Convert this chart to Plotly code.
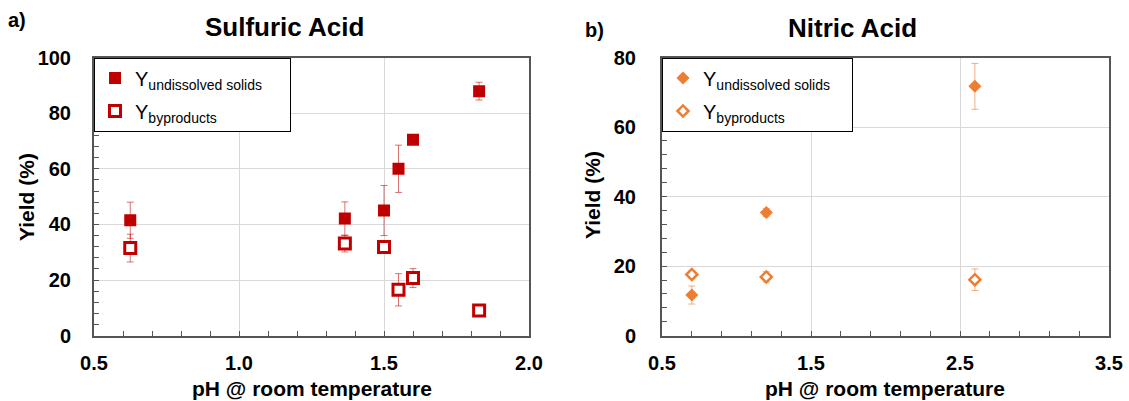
import plotly.graph_objects as go

# Sulfuric acid series
h2so4_ph = [0.625, 1.365, 1.50, 1.55, 1.60, 1.828]
h2so4_solids = [41.5, 42.1, 45.0, 60.0, 70.4, 87.9]
h2so4_solids_err = [6.5, 6.0, 9.0, 8.5, 1.0, 3.2]
h2so4_byprod = [31.5, 33.1, 31.9, 16.5, 20.7, 9.1]
h2so4_byprod_err = [5.0, 3.0, 1.0, 5.8, 3.4, 0.5]

# Nitric acid series
hno3_ph = [0.70, 1.20, 2.60]
hno3_solids = [11.7, 35.4, 71.7]
hno3_solids_err = [2.6, 1.2, 6.6]
hno3_byprod = [17.6, 16.9, 16.1]
hno3_byprod_err = [1.0, 1.5, 3.1]

RED = "#C00000"
ORANGE = "#ED7D31"
FRAME = "#555555"
FONT = "Liberation Sans"
W, H = 1129, 401

fig = go.Figure()

def err(vals, color):
    return dict(type="data", array=vals, visible=True, color=color,
                thickness=1, width=3.5)

fig.add_trace(go.Scatter(
    x=h2so4_ph, y=h2so4_solids, mode="markers",
    name="Y<sub>undissolved solids</sub>&nbsp;&nbsp;&nbsp;&nbsp;",
    legend="legend", legendgroup="a1",
    marker=dict(symbol="square", size=12, color=RED, line=dict(width=0)),
    error_y=err(h2so4_solids_err, "rgba(192,0,0,0.55)"),
    xaxis="x", yaxis="y"))
fig.add_trace(go.Scatter(
    x=h2so4_ph, y=h2so4_byprod, mode="markers",
    name="Y<sub>byproducts</sub>", legend="legend", legendgroup="a2",
    marker=dict(symbol="square", size=11, color="white",
                line=dict(width=3, color=RED)),
    error_y=err(h2so4_byprod_err, "rgba(192,0,0,0.55)"),
    xaxis="x", yaxis="y"))
fig.add_trace(go.Scatter(
    x=hno3_ph, y=hno3_solids, mode="markers",
    name="Y<sub>undissolved solids</sub>&nbsp;&nbsp;&nbsp;",
    legend="legend2", legendgroup="b1",
    marker=dict(symbol="diamond", size=10, color=ORANGE, line=dict(width=0)),
    error_y=err(hno3_solids_err, "rgba(237,125,49,0.6)"),
    xaxis="x2", yaxis="y2"))
fig.add_trace(go.Scatter(
    x=hno3_ph, y=hno3_byprod, mode="markers",
    name="Y<sub>byproducts</sub>", legend="legend2", legendgroup="b2",
    marker=dict(symbol="diamond", size=8.5, color="white",
                line=dict(width=2.5, color=ORANGE)),
    error_y=err(hno3_byprod_err, "rgba(237,125,49,0.6)"),
    xaxis="x2", yaxis="y2"))

ydom = [1 - 335.7 / H, 1 - 57.5 / H]
axis_common = dict(
    showline=True, linecolor=FRAME, linewidth=2, mirror=True,
    showgrid=True, gridcolor="#D9D9D9", gridwidth=1, zeroline=False,
    ticks="inside", ticklen=5, tickcolor=FRAME, tickwidth=1,
    tickfont=dict(family=FONT, size=20, color="black", weight="bold"),
    automargin=False,
)

def minor(step, start):
    return dict(dtick=step, tick0=start, ticks="inside", ticklen=5,
                tickcolor=FRAME, showgrid=False)

legend_style = dict(
    y=ydom[1], xanchor="left", yanchor="top",
    bgcolor="white", bordercolor="black", borderwidth=1,
    font=dict(family=FONT, size=20, color="black"),
    tracegroupgap=4, itemwidth=30, traceorder="grouped",
)

fig.update_layout(
    width=W, height=H,
    margin=dict(l=0, r=0, t=0, b=0, pad=0),
    paper_bgcolor="white", plot_bgcolor="white",
    font=dict(family=FONT, color="black"),
    xaxis=dict(domain=[94 / W, 529 / W], range=[0.5, 2.0], tick0=0.5,
               dtick=0.5, tickformat=".1f", minor=minor(0.1, 0.5),
               ticklabelstandoff=8, anchor="y", **axis_common),
    yaxis=dict(domain=ydom, range=[0, 100], dtick=20, minor=minor(4, 0),
               ticklabelstandoff=17, anchor="x", **axis_common),
    xaxis2=dict(domain=[662 / W, 1109 / W], range=[0.5, 3.5], tick0=0.5,
                dtick=1, tickformat=".1f", minor=minor(0.2, 0.5),
                ticklabelstandoff=8, anchor="y2", **axis_common),
    yaxis2=dict(domain=ydom, range=[0, 80], dtick=20, minor=minor(4, 0),
                ticklabelstandoff=20, anchor="x2", **axis_common),
    showlegend=True,
    legend=dict(x=94 / W, **legend_style),
    legend2=dict(x=662 / W, **legend_style),
)

def label(text, x, y, size, angle=0):
    fig.add_annotation(text=text, x=x / W, y=1 - y / H, xref="paper",
                       yref="paper", showarrow=False, textangle=angle,
                       font=dict(family=FONT, size=size, color="black",
                                 weight="bold"),
                       xanchor="center", yanchor="middle")

label("Sulfuric Acid", 284, 27, 26)
label("Nitric Acid", 852, 28, 26)
label("a)", 17, 20, 20)
label("b)", 594, 30, 20)
label("pH @ room temperature", 312, 388, 21)
label("pH @ room temperature", 885, 388, 21)
label("Yield (%)", 27, 197, 21, -90)
label("Yield (%)", 592, 195, 21, -90)

fig.write_html("out.html",
               post_script="document.body.style.margin='0';")
